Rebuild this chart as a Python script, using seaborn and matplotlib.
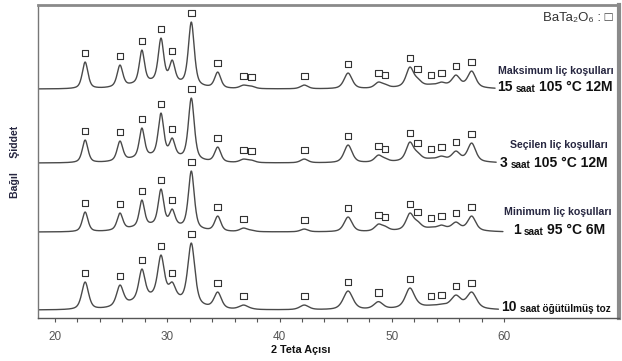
import numpy as np
import pandas as pd
import seaborn as sns
import matplotlib.pyplot as plt

peak_pos = [22.7, 25.8, 27.75, 29.45, 30.45, 32.15, 34.5, 36.8, 37.5, 42.2,
            46.1, 48.8, 49.4, 51.6, 52.3, 53.5, 54.4, 55.7, 57.1]
peak_fwhm = [0.6, 0.6, 0.55, 0.58, 0.58, 0.62, 0.65, 0.8, 0.8, 0.8,
             0.85, 0.8, 0.8, 0.8, 0.8, 0.8, 0.8, 0.85, 0.85]

# peak heights above each baseline
h_maks = [27, 24, 39, 51, 29, 67, 17, 4, 3, 4, 16, 7, 5, 22, 11, 5, 7, 14, 18]
h_secilen = [23, 22, 35, 50, 25, 65, 16, 4, 3, 4, 18, 8, 5, 21, 11, 5, 7, 12, 20]
h_minimum = [20, 19, 32, 43, 23, 61, 16, 4, 2, 3, 15, 8, 6, 19, 11, 5, 7, 10, 16]
h_toz = [28, 25, 41, 55, 28, 67, 18, 5, 2, 5, 19, 8, 3, 22, 9, 5, 6, 15, 18]

heights = [h_maks, h_secilen, h_minimum, h_toz]
offsets = [229, 155, 86, 8]
hump_amp = [6, 6, 6, 12]
width_scale = [1.0, 1.0, 1.0, 1.2]
x_end = [59.2, 59.3, 59.9, 59.5]

# which reflections carry a square marker in each pattern
marked = [list(range(19)), list(range(19)),
          [0, 1, 2, 3, 4, 5, 6, 7, 9, 10, 11, 12, 13, 14, 15, 16, 17, 18],
          [0, 1, 2, 3, 4, 5, 6, 7, 9, 10, 11, 13, 15, 16, 17, 18]]

upper_lbl = ['Maksimum liç koşulları', 'Seçilen liç koşulları',
             'Minimum liç koşulları', None]
lower_lbl = [('15', 'saat', '105 °C 12M'), ('3', 'saat', '105 °C 12M'),
             ('1', 'saat', '95 °C 6M'), ('10', 'saat öğütülmüş toz', '')]


def pv(x, x0, fwhm):
    hw = fwhm / 2
    lor = 1 / (1 + ((x - x0) / hw) ** 2)
    gau = np.exp(-np.log(2) * ((x - x0) / hw) ** 2)
    return 0.55 * lor + 0.45 * gau


def bg(x, amp):
    return amp * np.exp(-0.5 * ((x - 29.2) / 2.2) ** 2) + 3 * np.exp(-0.5 * ((x - 54) / 2.5) ** 2)


pos = np.array(peak_pos)
frames = []
marks = []
for k in range(4):
    w = np.array(peak_fwhm) * width_scale[k]
    A = pv(pos[:, None], pos[None, :], w[None, :])
    amps = np.linalg.solve(A, np.array(heights[k]) - bg(pos, hump_amp[k]))
    amps = np.clip(amps, 0, None)
    tt = np.arange(18.5, x_end[k], 0.02)
    inten = offsets[k] + bg(tt, hump_amp[k]) + (amps[None, :] * pv(tt[:, None], pos[None, :], w[None, :])).sum(axis=1)
    frames.append(pd.DataFrame({'theta': tt, 'I': inten, 'k': k}))
    mx = pos[marked[k]]
    my = offsets[k] + bg(mx, hump_amp[k]) + (amps[None, :] * pv(mx[:, None], pos[None, :], w[None, :])).sum(axis=1) + 9
    marks.append(pd.DataFrame({'theta': mx, 'I': my}))

sns.set_style('ticks')
plt.rcParams['font.family'] = ['Liberation Sans', 'DejaVu Sans']

fig = plt.figure(figsize=(6.22, 3.61), dpi=100)
ax = fig.add_axes([0.061, 0.119, 0.934, 0.867])

for k in range(4):
    sns.lineplot(data=frames[k], x='theta', y='I', ax=ax, color='#4a4a4a', lw=1.0, estimator=None)
    sns.scatterplot(data=marks[k], x='theta', y='I', ax=ax, marker='s', s=22,
                    facecolor='none', edgecolor='#333333', linewidth=0.8)

txt_c = '#262640'
ypos_up = [247, 173, 106]
x_up = [64.6, 64.9, 64.75]
for k in range(3):
    ax.text(x_up[k], ypos_up[k], upper_lbl[k], fontsize=7.6, fontweight='bold',
            color=txt_c, ha='center', va='center')

# second label line: big number, small "saat", big conditions, chained left to right
y_low = [231, 155, 88, 11]
x_a = [59.35, 59.55, 60.75, 59.75]
for k in range(4):
    a, b, c = lower_lbl[k]
    t = ax.text(x_a[k], y_low[k], a, fontsize=10, fontweight='bold', color='#111111',
                ha='left', va='center')
    t = ax.annotate(b, xy=(1, 0), xycoords=t, xytext=(2.5, 0), textcoords='offset points',
                    fontsize=7.2, fontweight='bold', color='#111111', ha='left', va='bottom')
    if c:
        ax.annotate(c, xy=(1, 0), xycoords=t, xytext=(2.5, 0), textcoords='offset points',
                    fontsize=10, fontweight='bold', color='#111111', ha='left', va='bottom')

ax.text(69.6, 300, 'BaTa₂O₆ : □', fontsize=9.5, color='#333333', ha='right', va='center')

ax.set_xlim(18.5, 70.2)
ax.set_ylim(0, 313)
ax.set_xticks(np.arange(20, 61, 2))
ax.set_xticklabels([str(t) if t % 10 == 0 else '' for t in range(20, 61, 2)])
ax.set_yticks([])
ax.tick_params(axis='x', length=3, width=0.8, colors='#555555', labelsize=8.5, pad=6)
ax.set_xlabel('2 Teta Açısı', fontsize=7.8, fontweight='bold', color='#111111')
ax.xaxis.set_label_coords(0.452, -0.085)
ax.set_ylabel('Bağıl     Şiddet', fontsize=7.6, fontweight='bold', color=txt_c, labelpad=13)

for side, lw, col in [('top', 2.0, '#8a8a8a'), ('right', 3.0, '#8a8a8a'),
                      ('left', 1.0, '#777777'), ('bottom', 1.0, '#555555')]:
    ax.spines[side].set_visible(True)
    ax.spines[side].set_linewidth(lw)
    ax.spines[side].set_color(col)

fig.savefig('out.png', dpi=100)
